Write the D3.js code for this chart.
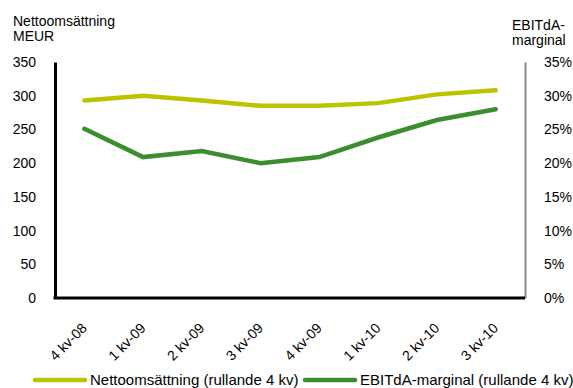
<!DOCTYPE html>
<html>
<head>
<meta charset="utf-8">
<script src="https://cdn.jsdelivr.net/npm/d3@7"></script>
<style>
  body { margin: 0; background: #fff; }
  text { font-family: "Liberation Sans", Arial, sans-serif; fill: #000; }
</style>
</head>
<body>
<div id="chart"></div>
<script>
// kvartal (rullande 4 kv)
const quarters = ["4 kv-08", "1 kv-09", "2 kv-09", "3 kv-09", "4 kv-09", "1 kv-10", "2 kv-10", "3 kv-10"]
const netto = [293, 300, 293, 285, 285, 289, 302, 308]          // MEUR
const ebitda = [25.1, 20.9, 21.8, 20.0, 20.9, 23.8, 26.4, 28.0]  // %
const leftTicks = [0, 50, 100, 150, 200, 250, 300, 350]
const rightTicks = [0, 5, 10, 15, 20, 25, 30, 35]

const width = 573
const height = 388
const margin = ({ top: 62, right: 48, bottom: 90, left: 55 })

const svg = d3.select("#chart")
    .append("svg")
    .attr("width", width)
    .attr("height", height)

const x = d3.scalePoint()
    .domain(quarters)
    .range([margin.left, width - margin.right])
    .padding(0.5)

const yL = d3.scaleLinear()
    .domain([0, 350])
    .range([height - margin.bottom, margin.top])

const yR = d3.scaleLinear()
    .domain([0, 35])
    .range([height - margin.bottom, margin.top])

// left axis
const gL = svg.append("g")
    .attr("transform", `translate(${margin.left},0)`)
    .call(d3.axisLeft(yL).tickValues(leftTicks).tickSize(0).tickPadding(19))
gL.select(".domain").attr("stroke", "#000").attr("stroke-width", 3)
gL.selectAll("text").style("font-size", "14px")

// right axis
const gR = svg.append("g")
    .attr("transform", `translate(${width - margin.right},0)`)
    .call(d3.axisRight(yR).tickValues(rightTicks).tickSize(0).tickPadding(19).tickFormat(d => d + "%"))
gR.select(".domain").attr("stroke", "#888").attr("stroke-width", 2)
gR.selectAll("text").style("font-size", "14px")

// bottom axis
const gB = svg.append("g")
    .attr("transform", `translate(0,${height - margin.bottom})`)
    .call(d3.axisBottom(x).tickSize(0))
gB.select(".domain")
    .attr("d", `M${margin.left - 1.5},0H${width - margin.right}`)
    .attr("stroke", "#000").attr("stroke-width", 3)
gB.selectAll("text")
    .style("font-size", "14px")
    .attr("text-anchor", "end")
    .attr("dy", null)
    .attr("y", 0)
    .attr("transform", "translate(3,31) rotate(-45)")

// lines
const lineL = d3.line()
    .x((d, i) => x(quarters[i]))
    .y(d => yL(d))
const lineR = d3.line()
    .x((d, i) => x(quarters[i]))
    .y(d => yR(d))

svg.append("path")
    .datum(netto)
    .attr("fill", "none")
    .attr("stroke", "#bcc400")
    .attr("stroke-width", 4.5)
    .attr("stroke-linecap", "round")
    .attr("d", lineL)

svg.append("path")
    .datum(ebitda)
    .attr("fill", "none")
    .attr("stroke", "#3a8e2e")
    .attr("stroke-width", 4.5)
    .attr("stroke-linecap", "round")
    .attr("d", lineR)

// axis titles
svg.append("text").attr("x", 13).attr("y", 26).style("font-size", "14px").text("Nettoomsättning")
svg.append("text").attr("x", 13).attr("y", 41).style("font-size", "14px").text("MEUR")
svg.append("text").attr("x", 512).attr("y", 30).style("font-size", "14px").text("EBITdA-")
svg.append("text").attr("x", 512).attr("y", 45).style("font-size", "14px").text("marginal")

// legend
const legend = [
    { label: "Nettoomsättning (rullande 4 kv)", color: "#bcc400", x: 35 },
    { label: "EBITdA-marginal (rullande 4 kv)", color: "#3a8e2e", x: 305 }
]
const lg = svg.append("g").selectAll("g")
    .data(legend)
    .enter().append("g")
    .attr("transform", d => `translate(${d.x},380)`)
lg.append("line")
    .attr("x1", 0).attr("x2", 50)
    .attr("stroke", d => d.color)
    .attr("stroke-width", 4.5)
    .attr("stroke-linecap", "round")
lg.append("text")
    .attr("x", 55).attr("y", 5)
    .style("font-size", "15px")
    .text(d => d.label)
</script>
</body>
</html>
